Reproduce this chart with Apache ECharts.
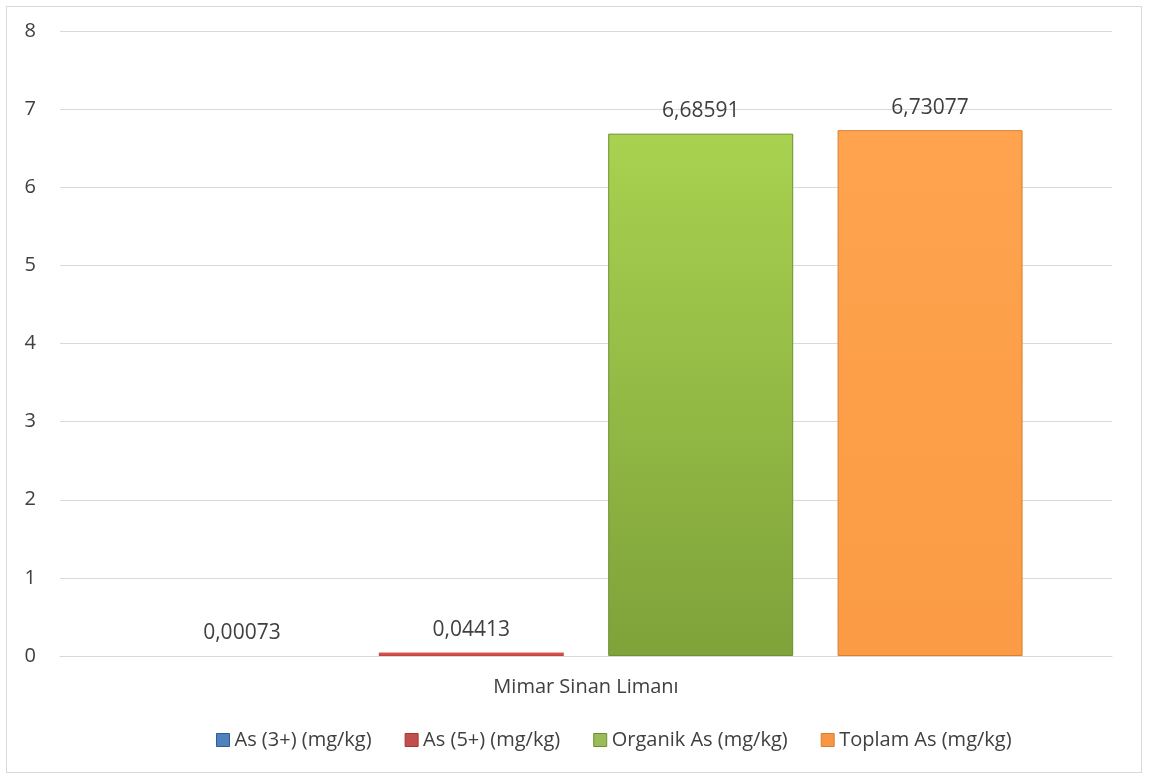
<!DOCTYPE html>
<html>
<head>
<meta charset="utf-8">
<script src="https://cdn.jsdelivr.net/npm/echarts@6/dist/echarts.min.js"></script>
<style>
  html, body { margin: 0; padding: 0; background: #fff; }
  #frame { position: absolute; left: 6px; top: 6px; width: 1136px; height: 767px; border: 1px solid #d9d9d9; box-sizing: border-box; }
  #chart { position: absolute; left: 0; top: 0; width: 1150px; height: 780px; }
</style>
</head>
<body>
<div id="frame"></div>
<div id="chart"></div>
<script>
const categories = ['Mimar Sinan Limanı'];
const seriesNames = ['As (3+) (mg/kg)', 'As (5+) (mg/kg)', 'Organik As (mg/kg)', 'Toplam As (mg/kg)'];
const as3Values = [0.00073];
const as5Values = [0.04413];
const organikValues = [6.68591];
const toplamValues = [6.73077];
const yTicks = [0, 1, 2, 3, 4, 5, 6, 7, 8];

const fmt = v => v.toFixed(5).replace('.', ',');
const FONT = 'Open Sans, Liberation Sans, sans-serif';

function grad(top, bottom) {
  return new echarts.graphic.LinearGradient(0, 0, 0, 1, [
    { offset: 0, color: top },
    { offset: 1, color: bottom }
  ]);
}

const palette = [
  { fill: grad('#5B8FD0', '#3A6DB0'), border: '#2F5B95', legend: '#4F81BD' },
  { fill: grad('#E05A57', '#C0403D'), border: '#A83532', legend: '#C0504D' },
  { fill: grad('#A8D250', '#7FA23A'), border: '#6E8E30', legend: '#9BBB59' },
  { fill: grad('#FFA34E', '#FB9B45'), border: '#D9802F', legend: '#F79646' }
];

const dataSets = [as3Values, as5Values, organikValues, toplamValues];

const chart = echarts.init(document.getElementById('chart'), null, { renderer: 'canvas' });

chart.setOption({
  animation: false,
  textStyle: { fontFamily: FONT },
  grid: { left: 60, right: 38, top: 31, bottom: 124 },
  legend: {
    bottom: 25,
    left: 211,
    itemWidth: 13,
    itemHeight: 13,
    itemGap: 33,
    icon: 'rect',
    textStyle: { fontSize: 20, color: '#404040', fontFamily: FONT },
    data: seriesNames.map((n, i) => ({ name: n, itemStyle: { color: palette[i].legend, borderColor: palette[i].border, borderWidth: 1 } }))
  },
  xAxis: {
    type: 'category',
    data: categories,
    axisLine: { lineStyle: { color: '#d9d9d9' } },
    axisTick: { show: false },
    axisLabel: { color: '#404040', fontSize: 20, margin: 21, fontFamily: FONT }
  },
  yAxis: {
    type: 'value',
    min: yTicks[0],
    max: yTicks[yTicks.length - 1],
    interval: 1,
    axisLine: { show: false },
    axisTick: { show: false },
    axisLabel: { color: '#404040', fontSize: 20, margin: 24, fontFamily: FONT },
    splitLine: { lineStyle: { color: '#d9d9d9' } }
  },
  series: dataSets.map((vals, i) => ({
    name: seriesNames[i],
    type: 'bar',
    data: vals,
    barGap: '24%',
    barCategoryGap: '17%',
    itemStyle: { color: palette[i].fill, borderColor: palette[i].border, borderWidth: i >= 2 ? 1 : 0 },
    label: {
      show: true,
      position: 'top',
      distance: 12,
      color: '#404040',
      fontSize: 21,
      fontFamily: FONT,
      formatter: p => fmt(p.value)
    }
  }))
});
</script>
</body>
</html>
